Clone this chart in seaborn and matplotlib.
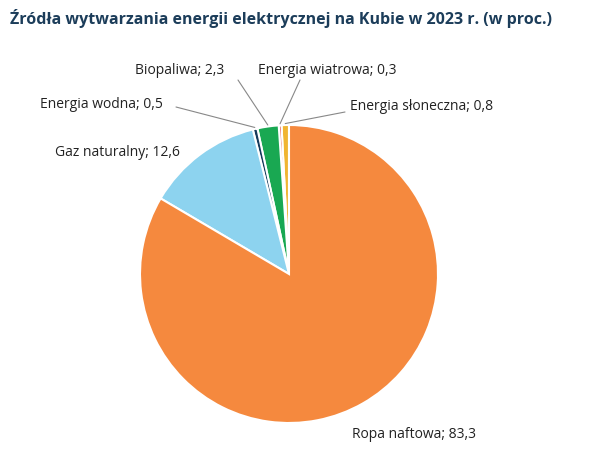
import matplotlib
matplotlib.use("Agg")
import matplotlib.pyplot as plt
import seaborn as sns
import numpy as np

sns.set_theme(style="white")
plt.rcParams['font.family'] = ['Open Sans', 'DejaVu Sans']

labels = ["Energia słoneczna", "Energia wiatrowa", "Biopaliwa", "Energia wodna", "Gaz naturalny", "Ropa naftowa"]
values = [0.8, 0.3, 2.3, 0.5, 12.6, 83.3]
value_text = ["0,8", "0,3", "2,3", "0,5", "12,6", "83,3"]
colors = ["#f0b532", "#e0483c", "#19a852", "#153a5c", "#8dd3ef", "#f5893e"]

W, H = 598, 475
cx, cy, r = 289, 274, 149
fig = plt.figure(figsize=(W / 100, H / 100), dpi=100)
ax = fig.add_axes([(cx - r) / W, 1 - (cy + r) / H, 2 * r / W, 2 * r / H])
wedges, _ = ax.pie(values, colors=colors, startangle=90, counterclock=True,
                   wedgeprops=dict(edgecolor="white", linewidth=1.5))
ax.set_aspect("equal")
ax.set_xlim(-1, 1)
ax.set_ylim(-1, 1)
ax.set_autoscale_on(False)

pos = {
    "Energia słoneczna": (350, 107),
    "Energia wiatrowa": (258, 70),
    "Biopaliwa": (135, 70),
    "Energia wodna": (40, 105),
    "Gaz naturalny": (55, 153),
    "Ropa naftowa": (352, 434),
}
line_end = {
    "Energia słoneczna": (345, 112),
    "Energia wiatrowa": (300, 80),
    "Biopaliwa": (238, 80),
    "Energia wodna": (176, 107),
}
theta = np.cumsum([0] + values)
for i, lab in enumerate(labels):
    x, y = pos[lab]
    fig.text(x / W, 1 - y / H, f"{lab}; {value_text[i]}", ha="left", va="center",
             fontsize=10, color="#222222")
    if lab in line_end:
        ang = np.deg2rad(90 + (theta[i] + theta[i + 1]) / 2 * 3.6)
        px, py = 1.01 * np.cos(ang), 1.01 * np.sin(ang)
        ex, ey = line_end[lab]
        dx, dy = (ex - cx) / r, (cy - ey) / r
        ax.plot([px, dx], [py, dy], color="#888888", lw=0.8, clip_on=False)

fig.text(0.017, 1 - 18 / H, "Źródła wytwarzania energii elektrycznej na Kubie w 2023 r. (w proc.)",
         fontsize=11.5, fontweight="bold", color="#1c3d5a", va="center", ha="left")
fig.savefig("out.png", dpi=100, facecolor="white")
